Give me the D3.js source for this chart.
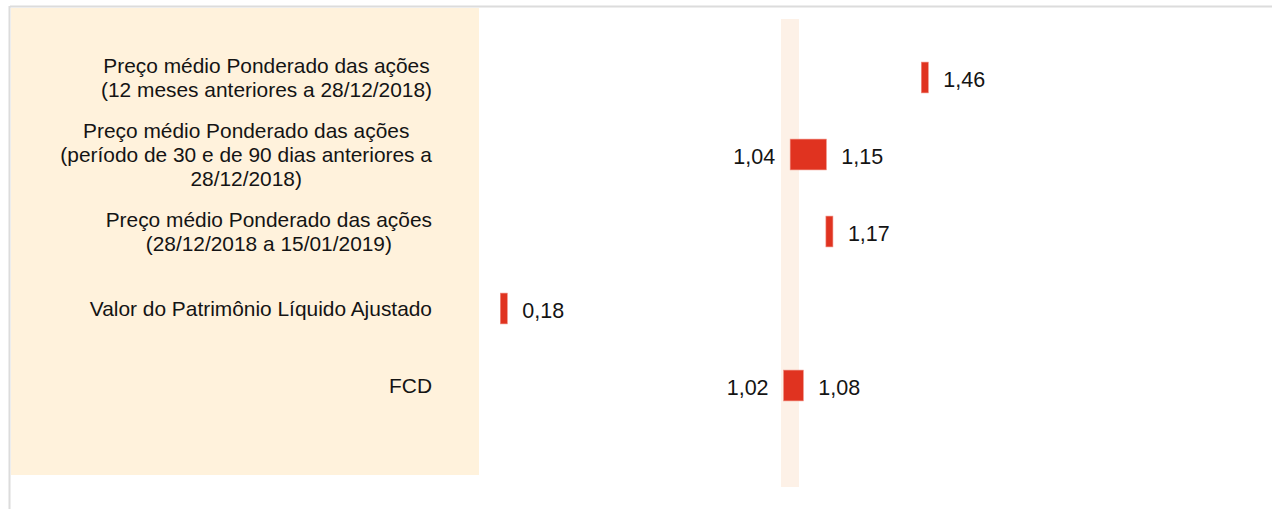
<!DOCTYPE html>
<html>
<head>
<meta charset="utf-8">
<script src="https://cdn.jsdelivr.net/npm/d3@7"></script>
<style>
  body { margin: 0; background: #fff; }
  text { font-family: "Liberation Sans", Arial, sans-serif; fill: #141414; }
</style>
</head>
<body>
<script>
// categorias (uma linha por entrada)
var categorias = [
  ["Preço médio Ponderado das ações", "(12 meses anteriores a 28/12/2018)"],
  ["Preço médio Ponderado das ações", "(período de 30 e de 90 dias anteriores a", "28/12/2018)"],
  ["Preço médio Ponderado das ações", "(28/12/2018 a 15/01/2019)"],
  ["Valor do Patrimônio Líquido Ajustado"],
  ["FCD"]
];
// limite inferior (null = valor único) e limite superior
var minimos = [null, 1.04, null, null, 1.02];
var maximos = [1.46, 1.15, 1.17, 0.18, 1.08];
// faixa de referência sombreada
var faixa = [1.012, 1.067];

var width = 1272, height = 509;

var svg = d3.select("body").append("svg")
  .attr("width", width)
  .attr("height", height);

var fmt = function(v) { return d3.format(".2f")(v).replace(".", ","); };

var x = d3.scaleLinear().domain([0, 2.4]).range([448.1, 448.1 + 2.4 * 328.9]);
var y = d3.scaleBand().domain(d3.range(categorias.length)).range([39, 424]).paddingInner(0.6).paddingOuter(0.3);

// moldura
svg.append("line").attr("x1", 10).attr("x2", width).attr("y1", 6.5).attr("y2", 6.5)
  .attr("stroke", "#dcdcdc").attr("stroke-width", 2);
svg.append("line").attr("x1", 9.5).attr("x2", 9.5).attr("y1", 6).attr("y2", height)
  .attr("stroke", "#dcdcdc").attr("stroke-width", 2);

// painel das categorias
svg.append("rect").attr("x", 11).attr("y", 8).attr("width", 468).attr("height", 467)
  .attr("fill", "#fff2dc");

// faixa
svg.append("rect")
  .attr("x", x(faixa[0])).attr("width", x(faixa[1]) - x(faixa[0]))
  .attr("y", 19).attr("height", 468)
  .attr("fill", "#fdf1e7");

var data = categorias.map(function(c, i) {
  return { lines: c, lo: minimos[i], hi: maximos[i], i: i };
});

// rótulos das categorias
var labels = svg.selectAll(".cat").data(data).enter().append("text")
  .attr("class", "cat")
  .attr("font-size", 20.9)
  .attr("text-anchor", "middle");

labels.each(function(d) {
  var t = d3.select(this);
  var n = d.lines.length;
  var cy = y(d.i) + y.bandwidth() / 2;
  d.lines.forEach(function(l, k) {
    t.append("tspan").text(l)
      .attr("y", cy + (k - (n - 1) / 2) * 24)
      .attr("dy", "0.38em");
  });
  var maxW = 0;
  t.selectAll("tspan").each(function() { maxW = Math.max(maxW, this.getComputedTextLength()); });
  t.selectAll("tspan").attr("x", 432 - maxW / 2);
});

// barras
var minW = 7;
svg.selectAll(".bar").data(data).enter().append("rect")
  .attr("class", "bar")
  .attr("x", function(d) { return d.lo == null ? x(d.hi) - minW : x(d.lo); })
  .attr("width", function(d) { return d.lo == null ? minW : x(d.hi) - x(d.lo); })
  .attr("y", function(d) { return y(d.i); })
  .attr("height", y.bandwidth())
  .attr("fill", "#e03320")
  .attr("stroke", "#ef8a7e")
  .attr("stroke-width", 0.6);

// valores
svg.selectAll(".vhi").data(data).enter().append("text")
  .attr("class", "vhi")
  .attr("font-size", 21.5)
  .attr("x", function(d) { return x(d.hi) + 15; })
  .attr("y", function(d) { return y(d.i) + y.bandwidth() / 2; })
  .attr("dy", "0.45em")
  .text(function(d) { return fmt(d.hi); });

svg.selectAll(".vlo").data(data.filter(function(d) { return d.lo != null; })).enter().append("text")
  .attr("class", "vlo")
  .attr("font-size", 21.5)
  .attr("text-anchor", "end")
  .attr("x", function(d) { return x(d.lo) - 15; })
  .attr("y", function(d) { return y(d.i) + y.bandwidth() / 2; })
  .attr("dy", "0.45em")
  .text(function(d) { return fmt(d.lo); });
</script>
</body>
</html>
